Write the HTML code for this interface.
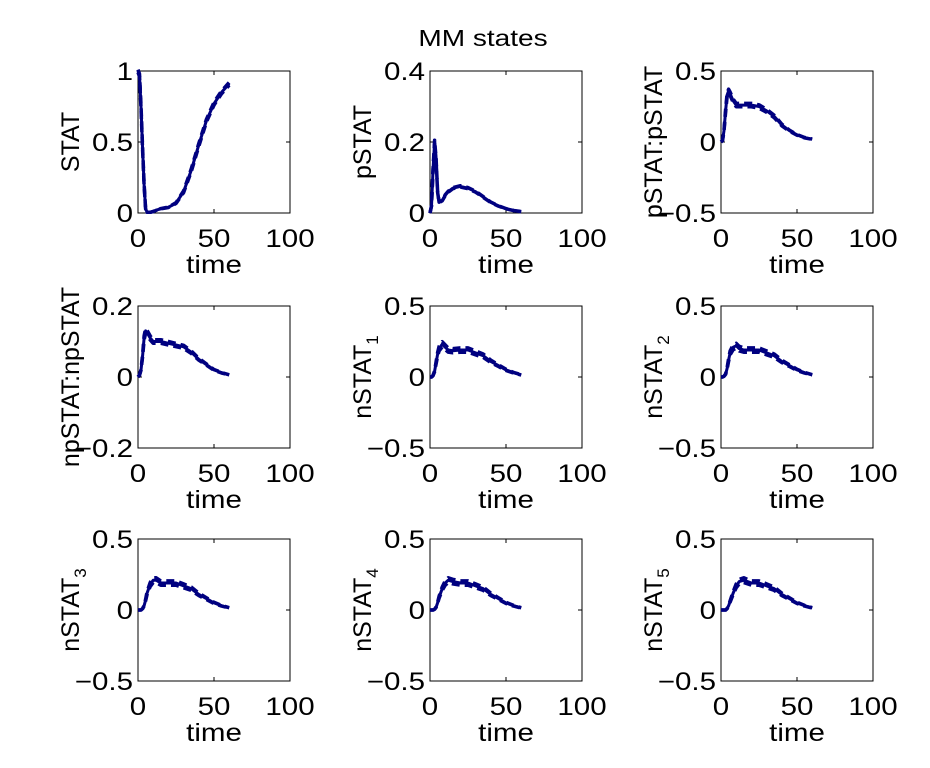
<!DOCTYPE html>
<html><head><meta charset="utf-8"><style>
body{margin:0;background:#fff;}
svg{display:block;font-family:"Liberation Sans",Arial,sans-serif;}
</style></head><body>
<svg id="c" width="930" height="768">
<text transform="translate(483,46) scale(1.22,1)" font-size="23" text-anchor="middle">MM states</text>
</svg>
<script>
const panelNames = ["STAT","pSTAT","pSTAT:pSTAT","npSTAT:npSTAT","nSTAT1","nSTAT2","nSTAT3","nSTAT4","nSTAT5"];
const yMins = [0,0,-0.5,-0.2,-0.5,-0.5,-0.5,-0.5,-0.5];
const yMaxs = [1,0.4,0.5,0.2,0.5,0.5,0.5,0.5,0.5];
const yTickLabels = [["0","0.5","1"],["0","0.2","0.4"],["-0.5","0","0.5"],["-0.2","0","0.2"],["-0.5","0","0.5"],["-0.5","0","0.5"],["-0.5","0","0.5"],["-0.5","0","0.5"],["-0.5","0","0.5"]];
const xTicks = [0,50,100];
const times = [0,1,2,3,4,5,6,8,10,12,15,20,25,30,35,40,45,50,55,60];
const series = [
 [1,0.97,0.75,0.45,0.2,0.03,0.005,0.005,0.01,0.02,0.03,0.04,0.07,0.15,0.3,0.48,0.65,0.77,0.85,0.91],
 [0,0.02,0.12,0.2,0.15,0.06,0.03,0.035,0.05,0.06,0.07,0.075,0.07,0.06,0.045,0.03,0.02,0.012,0.007,0.004],
 [0,0.01,0.08,0.22,0.33,0.36,0.34,0.29,0.26,0.26,0.26,0.26,0.25,0.22,0.18,0.12,0.08,0.05,0.03,0.02],
 [0,0.005,0.02,0.06,0.11,0.13,0.125,0.11,0.1,0.1,0.1,0.095,0.09,0.085,0.07,0.05,0.035,0.02,0.012,0.006],
 [0,0,0.01,0.04,0.1,0.16,0.2,0.23,0.21,0.19,0.185,0.19,0.19,0.17,0.15,0.11,0.08,0.05,0.03,0.015],
 [0,0,0.005,0.02,0.06,0.12,0.17,0.21,0.22,0.2,0.19,0.19,0.19,0.17,0.15,0.11,0.08,0.05,0.03,0.015],
 [0,0,0,0.01,0.03,0.07,0.12,0.18,0.21,0.21,0.19,0.19,0.19,0.17,0.15,0.11,0.08,0.05,0.03,0.015],
 [0,0,0,0.005,0.02,0.05,0.09,0.15,0.19,0.21,0.2,0.19,0.19,0.17,0.15,0.11,0.08,0.05,0.03,0.015],
 [0,0,0,0,0.01,0.03,0.06,0.12,0.17,0.2,0.21,0.19,0.19,0.17,0.15,0.11,0.08,0.05,0.03,0.015]
];
const spreads = [0.01,0.006,0.012,0.013,0.02,0.02,0.02,0.02,0.02];

const svg=document.getElementById('c');
const NS="http://www.w3.org/2000/svg";
const colL=[138,430,721], rowT=[71,306,539], W=152, H=142, SX=1.18;
function mk(tag,attrs,parent){const e=document.createElementNS(NS,tag);for(const k in attrs)e.setAttribute(k,attrs[k]);(parent||svg).appendChild(e);return e;}
for(let p=0;p<9;p++){
  const L=colL[p%3], T=rowT[Math.floor(p/3)];
  const g=mk('g',{});
  
  
  const xs=v=>L+v/100*W, ys=v=>T+H-(v-yMins[p])/(yMaxs[p]-yMins[p])*H;
  const box=mk('rect',{x:L,y:T,width:W,height:H,fill:'none',stroke:'#000','stroke-width':1},g);
  
  
  xTicks.forEach((t,i)=>{
    mk('line',{x1:xs(t),x2:xs(t),y1:T+H,y2:T+H-4,stroke:'#000'},g);
    mk('line',{x1:xs(t),x2:xs(t),y1:T,y2:T+4,stroke:'#000'},g);
    const tx=mk('text',{transform:`translate(${xs(t)},${T+H+34}) scale(${SX},1)`,'font-size':25,'text-anchor':'middle'},g);
    tx.textContent=t;
    
    
  });
  yTickLabels[p].forEach((lab,i)=>{
    const v=yMins[p]+i*(yMaxs[p]-yMins[p])/2;
    mk('line',{x1:L,x2:L+4,y1:ys(v),y2:ys(v),stroke:'#000'},g);
    mk('line',{x1:L+W,x2:L+W-4,y1:ys(v),y2:ys(v),stroke:'#000'},g);
    const tx=mk('text',{transform:`translate(${L-5},${ys(v)+9}) scale(${SX},1)`,'font-size':25,'text-anchor':'end'},g);
    tx.textContent=lab.replace('-','\u2212');
    
    
  });
  const xl=mk('text',{transform:`translate(${L+W/2},${T+H+60}) scale(${SX},1)`,'font-size':25,'text-anchor':'middle'},g);
  xl.textContent='time';
  
  
  const yl=mk('text',{transform:`translate(${L-59},${T+H/2}) rotate(-90)`,'font-size':25,'text-anchor':'middle'},g);
  const nm=panelNames[p];
  if(/^nSTAT\d$/.test(nm)){yl.textContent='nSTAT';const s=mk('tspan',{'font-size':17,dy:7},yl);s.textContent=nm.slice(5);}
  else yl.textContent=nm;
  
  
  const d=series[p], sp=spreads[p];
  const path=off=>times.map((t,i)=>(i?'L':'M')+xs(t).toFixed(1)+','+ys(d[i]+off*Math.min(d[i]*4,1)).toFixed(1)).join('');
  [sp,-sp].forEach(o=>{
    const pl=mk('path',{d:path(o),fill:'none',stroke:'#000080','stroke-width':3.5,'stroke-dasharray':'8,5','stroke-linejoin':'round'},g);
    
    
  });
  const ml=mk('path',{d:path(0),fill:'none',stroke:'#000080','stroke-width':3,'stroke-linejoin':'round'},g);
  
  
}
</script>
</body></html>
